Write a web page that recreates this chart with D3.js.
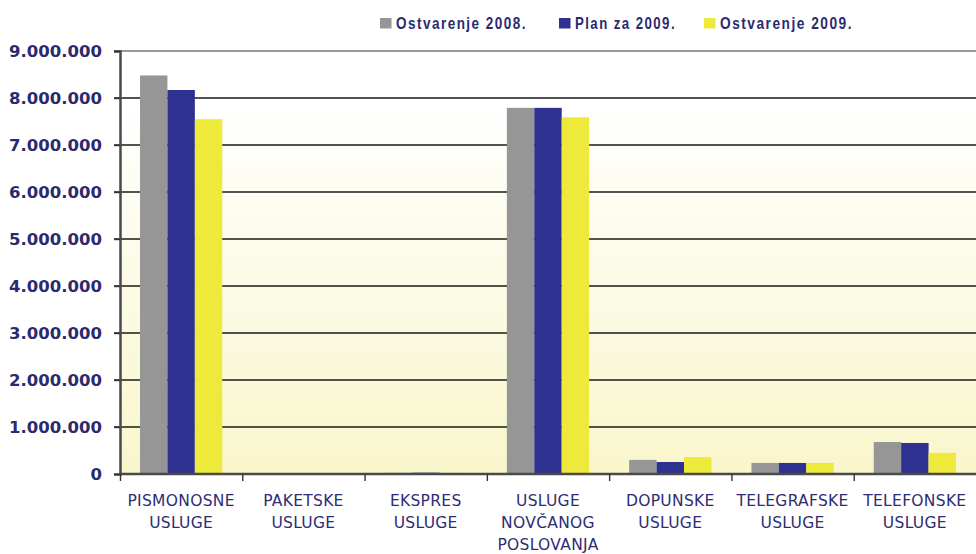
<!DOCTYPE html>
<html>
<head>
<meta charset="utf-8">
<script src="https://cdn.jsdelivr.net/npm/d3@7"></script>
<style>
  html, body { margin: 0; padding: 0; background: #ffffff; }
  svg { display: block; }
</style>
</head>
<body>
<svg id="chart" width="976" height="554"></svg>
<script>
// Categories of postal services
const categories = [
  ["PISMONOSNE", "USLUGE"],
  ["PAKETSKE", "USLUGE"],
  ["EKSPRES", "USLUGE"],
  ["USLUGE", "NOVČANOG", "POSLOVANJA"],
  ["DOPUNSKE", "USLUGE"],
  ["TELEGRAFSKE", "USLUGE"],
  ["TELEFONSKE", "USLUGE"]
];
const seriesNames = ["Ostvarenje 2008.", "Plan za 2009.", "Ostvarenje 2009."];
const seriesColors = ["#969696", "#2e3190", "#eeea3c"];

const ostvarenje2008 = [8480000, 3000, 25000, 7790000, 300000, 235000, 680000];
const plan2009       = [8170000, 3000, 28000, 7790000, 255000, 235000, 660000];
const ostvarenje2009 = [7550000, 3000, 22000, 7590000, 360000, 235000, 450000];
const seriesValues = [ostvarenje2008, plan2009, ostvarenje2009];

const yTicks = [0, 1000000, 2000000, 3000000, 4000000, 5000000, 6000000, 7000000, 8000000, 9000000];

const svg = d3.select("#chart");
const plotLeft = 120, plotRight = 976, plotTop = 51, plotBottom = 474;

const x0 = d3.scaleBand().domain(d3.range(categories.length)).range([plotLeft, plotRight]).paddingInner(0).paddingOuter(0);
const x1 = d3.scaleBand().domain(d3.range(seriesNames.length)).range([0, x0.bandwidth()]).paddingInner(0).paddingOuter(0.73);
const y = d3.scaleLinear().domain([0, 9000000]).range([plotBottom, plotTop]);

// plot background gradient
const defs = svg.append("defs");
const grad = defs.append("linearGradient").attr("id", "bg").attr("x1", 0).attr("y1", 0).attr("x2", 0).attr("y2", 1);
grad.append("stop").attr("offset", "0%").attr("stop-color", "#ffffff");
grad.append("stop").attr("offset", "12%").attr("stop-color", "#ffffff");
grad.append("stop").attr("offset", "100%").attr("stop-color", "#f9f6cc");
svg.append("rect").attr("x", plotLeft).attr("y", plotTop).attr("width", plotRight - plotLeft).attr("height", plotBottom - plotTop).attr("fill", "url(#bg)");

// horizontal gridlines
const fmt = v => d3.format(",")(v).replace(/,/g, ".");
svg.append("g").selectAll("line").data(yTicks.filter(d => d > 0)).join("line")
  .attr("x1", plotLeft - 6).attr("x2", plotRight)
  .attr("y1", d => y(d)).attr("y2", d => y(d))
  .attr("stroke", d => d === 9000000 ? "#9a9a9a" : "#1a1a1a")
  .attr("stroke-width", d => d === 9000000 ? 2 : 1.4);

// bars
const groups = svg.append("g").selectAll("g").data(categories).join("g")
  .attr("transform", (d, i) => `translate(${x0(i)},0)`);
groups.selectAll("rect").data((d, i) => seriesValues.map((s, j) => ({ j, v: s[i] }))).join("rect")
  .attr("x", d => x1(d.j)).attr("width", x1.bandwidth())
  .attr("y", d => y(d.v)).attr("height", d => plotBottom - y(d.v))
  .attr("fill", d => seriesColors[d.j]);

// y axis
const yAxis = d3.axisLeft(y).tickValues(yTicks).tickFormat(fmt).tickSize(6).tickPadding(12);
const yg = svg.append("g").attr("transform", `translate(${plotLeft},0)`).call(yAxis);
yg.select(".domain").attr("stroke", "#4a4a4a").attr("stroke-width", 2.5);
yg.selectAll(".tick line").attr("stroke", "#333").attr("stroke-width", 1.4);
yg.selectAll(".tick text")
  .attr("fill", "#2b2a6e").attr("font-family", "DejaVu Sans, Verdana, sans-serif")
  .attr("font-weight", "bold").attr("font-size", "16.5px");

// x axis
const xAxis = d3.axisBottom(d3.scaleLinear().domain([0, categories.length]).range([plotLeft, plotRight]))
  .tickValues(d3.range(categories.length)).tickSize(7).tickFormat("");
const xg = svg.append("g").attr("transform", `translate(0,${plotBottom})`).call(xAxis);
xg.select(".domain").attr("stroke", "#4a4a4a").attr("stroke-width", 2.5).attr("d", `M${plotLeft},0H${plotRight}`);
xg.selectAll(".tick line").attr("stroke", "#333").attr("stroke-width", 1.4);

// category labels
const labels = svg.append("g").selectAll("text").data(categories).join("text")
  .attr("x", (d, i) => x0(i) + x0.bandwidth() / 2)
  .attr("y", 506)
  .attr("text-anchor", "middle")
  .attr("fill", "#2e2d74")
  .attr("font-family", "DejaVu Sans, Verdana, sans-serif")
  .attr("font-size", "15.5px")
  .attr("letter-spacing", "0.3px");
labels.selectAll("tspan").data(d => d).join("tspan")
  .attr("x", function () { return d3.select(this.parentNode).attr("x"); })
  .attr("dy", (d, i) => i === 0 ? 0 : 22)
  .text(d => d);

// legend: condensed, letter-spaced bold type fitted to a set run length
const legendX = [380, 559, 704];
const legendTextWidth = [131, 101, 133];
const lg = svg.append("g").selectAll("g").data(seriesNames).join("g")
  .attr("transform", (d, i) => `translate(${legendX[i]},18)`);
lg.append("rect").attr("width", 11.5).attr("height", 10.5).attr("fill", (d, i) => seriesColors[i]);
lg.append("text").attr("x", 16).attr("y", 10.5)
  .attr("fill", "#2b2a6e").attr("font-family", "'Liberation Sans', Arial, sans-serif")
  .attr("font-weight", "bold").attr("font-size", "16.5px").attr("letter-spacing", "1.8px")
  .attr("textLength", (d, i) => legendTextWidth[i]).attr("lengthAdjust", "spacingAndGlyphs")
  .text(d => d);
</script>
</body>
</html>
